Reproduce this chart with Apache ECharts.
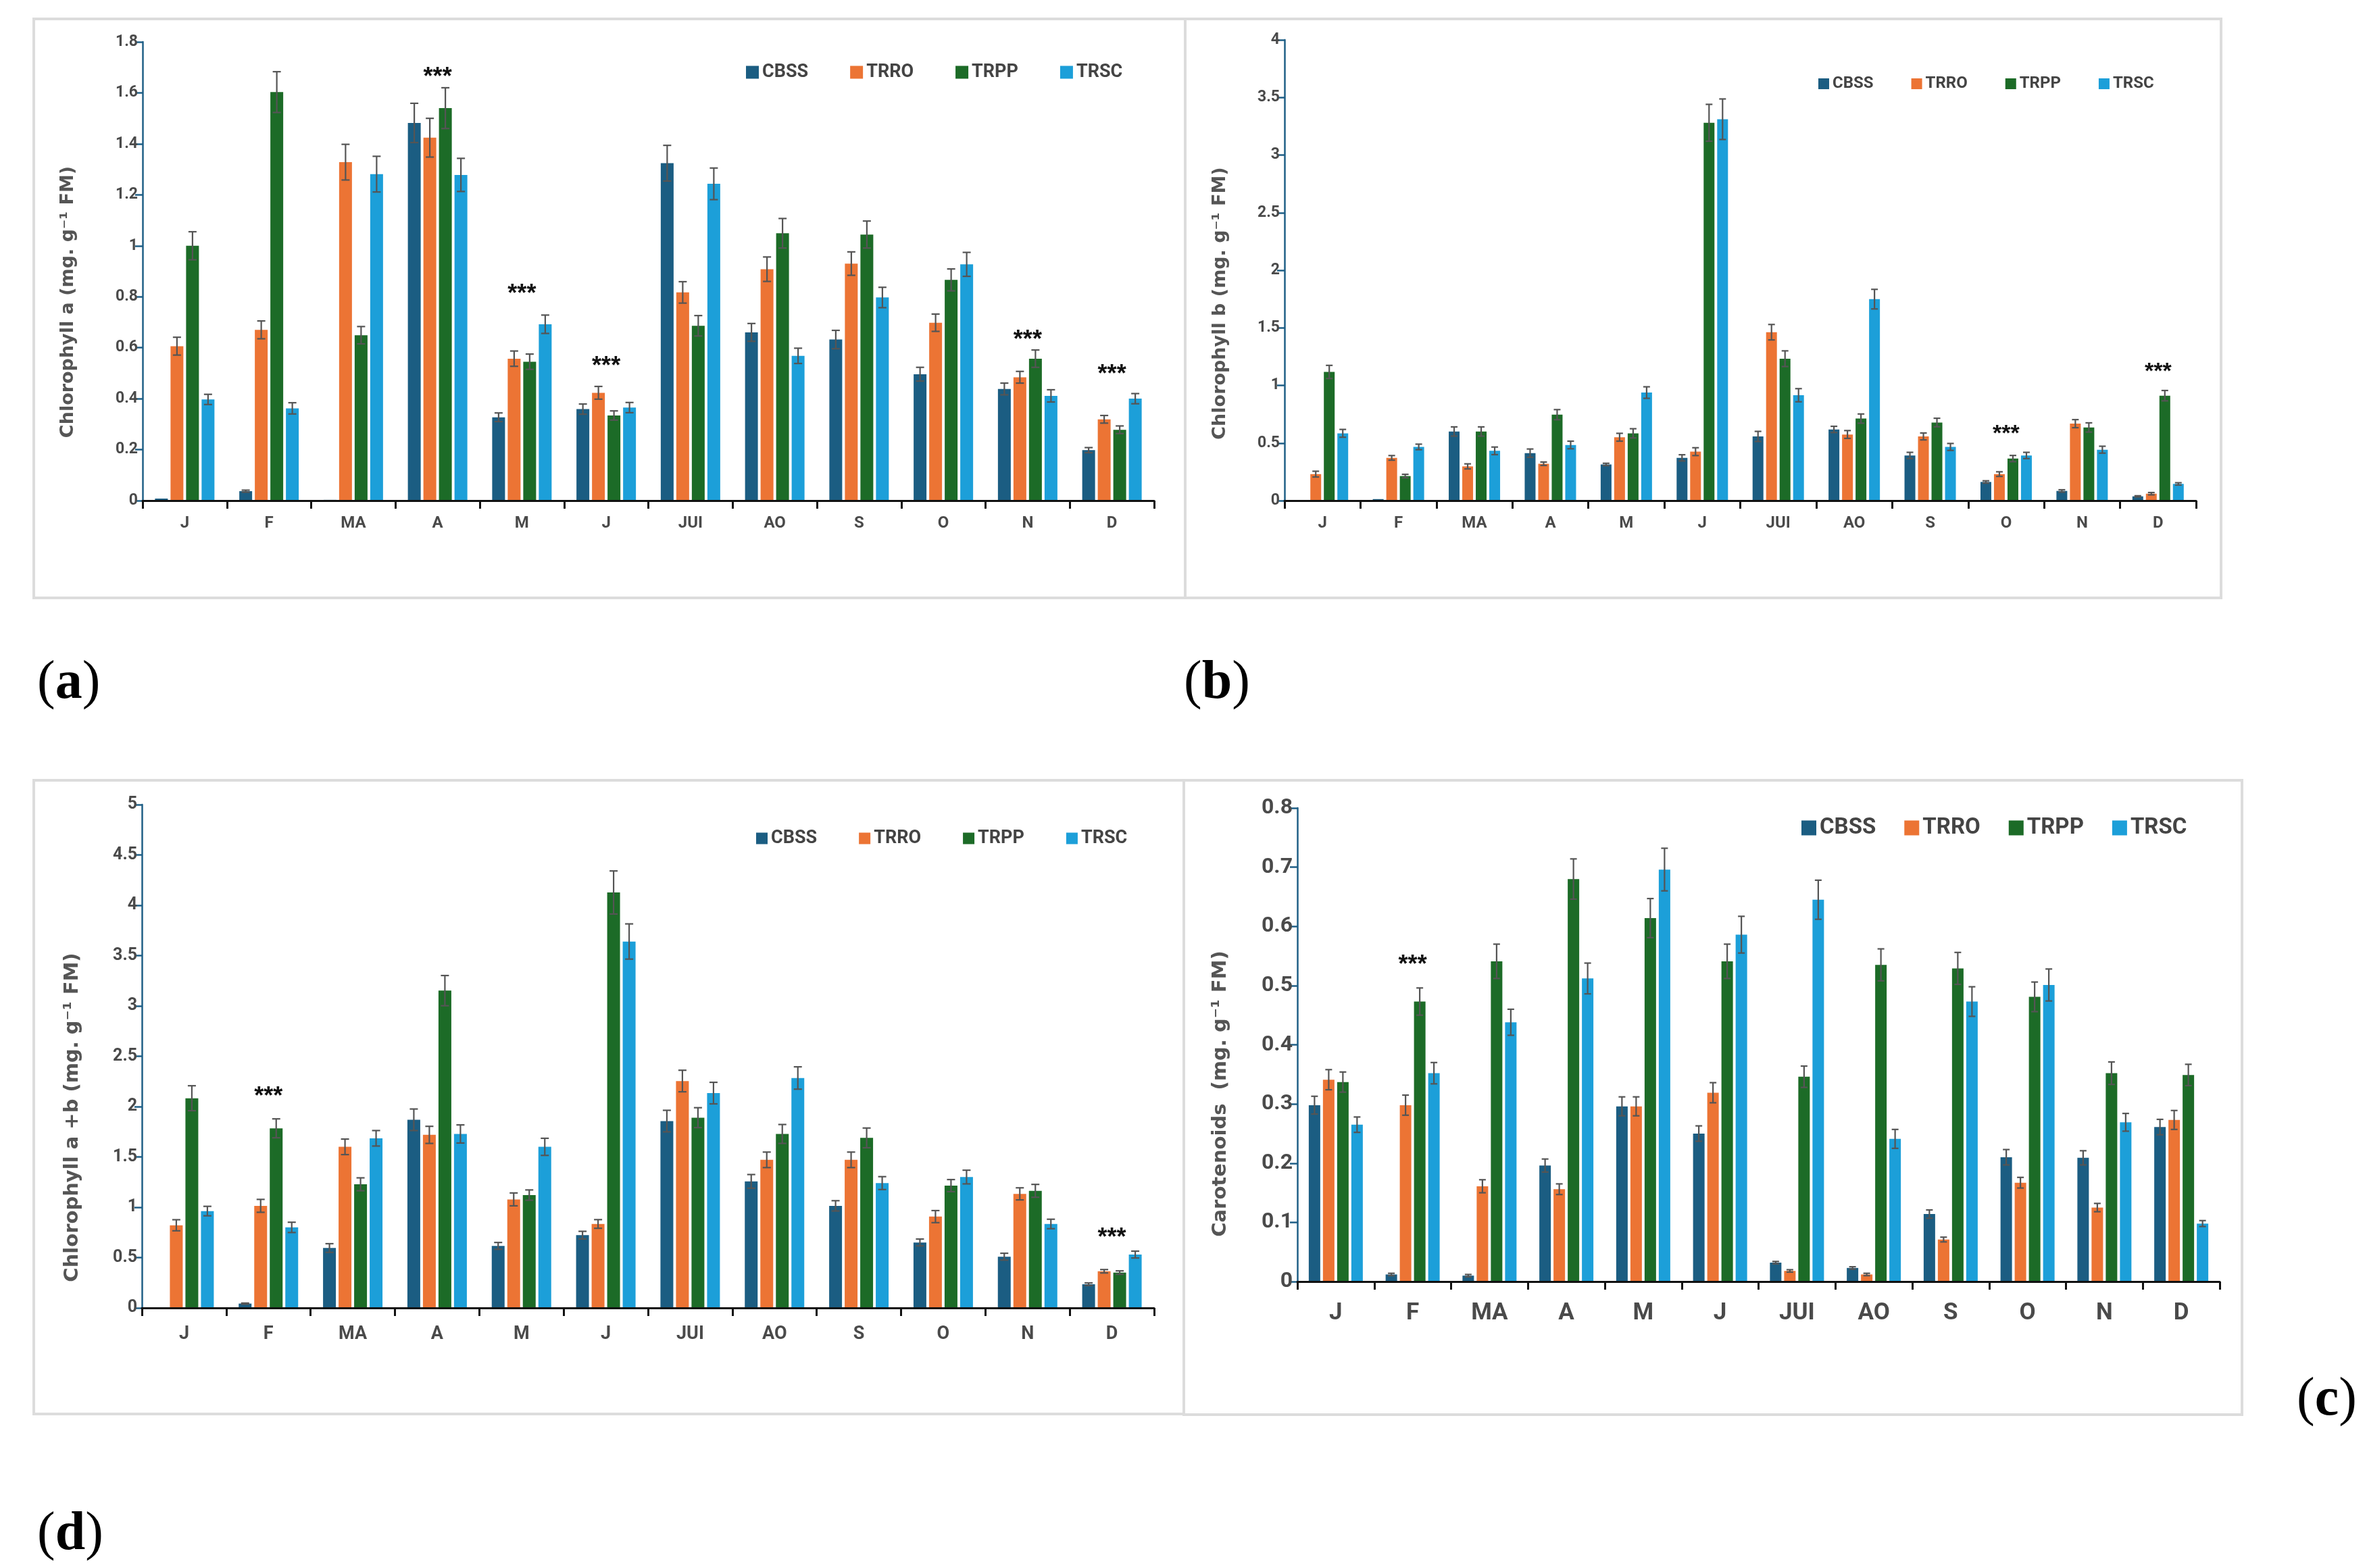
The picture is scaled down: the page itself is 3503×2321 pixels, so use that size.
<!DOCTYPE html>
<html>
<head>
<meta charset="utf-8">
<script src="https://cdn.jsdelivr.net/npm/echarts@6/dist/echarts.min.js"></script>
<style>
html,body{margin:0;padding:0;background:#fff;}
#main{width:3503px;height:2321px;}
</style>
</head>
<body>
<div id="main"></div>
<script>
// ---------------- DATA ----------------
const months = ['J','F','MA','A','M','J','JUI','AO','S','O','N','D'];
const treatments = ['CBSS','TRRO','TRPP','TRSC'];
const colors = ['#1b5d82','#ec7434','#1c6b27','#1c9fd9'];

// axis ranges [min, max, interval]
const chlA_axis = [0, 1.8, 0.2];
const chlB_axis = [0, 4, 0.5];
const chlAB_axis = [0, 5, 0.5];
const carot_axis = [0, 0.8, 0.1];

// (a) Chlorophyll a
const chlA_CBSS = [0.008, 0.037, 0.003, 1.482, 0.327, 0.359, 1.324, 0.660, 0.632, 0.496, 0.438, 0.198];
const chlA_TRRO = [0.606, 0.670, 1.328, 1.424, 0.557, 0.423, 0.817, 0.908, 0.930, 0.698, 0.484, 0.319];
const chlA_TRPP = [1.000, 1.603, 0.649, 1.540, 0.545, 0.334, 0.686, 1.049, 1.044, 0.866, 0.557, 0.278];
const chlA_TRSC = [0.397, 0.362, 1.281, 1.278, 0.692, 0.365, 1.243, 0.568, 0.797, 0.927, 0.411, 0.400];
const chlA_CBSS_err = [0, 0.004, 0, 0.077, 0.017, 0.020, 0.070, 0.035, 0.036, 0.027, 0.023, 0.010];
const chlA_TRRO_err = [0.035, 0.035, 0.070, 0.076, 0.030, 0.025, 0.042, 0.048, 0.046, 0.034, 0.023, 0.015];
const chlA_TRPP_err = [0.055, 0.080, 0.034, 0.080, 0.030, 0.018, 0.040, 0.058, 0.053, 0.043, 0.034, 0.015];
const chlA_TRSC_err = [0.020, 0.022, 0.070, 0.065, 0.036, 0.020, 0.062, 0.030, 0.040, 0.047, 0.024, 0.020];
const chlA_stars = [[3, 1.68], [4, 0.83], [5, 0.546], [10, 0.65], [11, 0.515]];

// (b) Chlorophyll b
const chlB_CBSS = [0.005, 0.013, 0.600, 0.412, 0.314, 0.371, 0.557, 0.618, 0.392, 0.162, 0.084, 0.037];
const chlB_TRRO = [0.230, 0.371, 0.297, 0.320, 0.550, 0.425, 1.462, 0.574, 0.557, 0.230, 0.668, 0.060];
const chlB_TRPP = [1.117, 0.213, 0.600, 0.746, 0.584, 3.280, 1.232, 0.712, 0.678, 0.365, 0.635, 0.911];
const chlB_TRSC = [0.584, 0.466, 0.432, 0.483, 0.938, 3.311, 0.915, 1.749, 0.466, 0.392, 0.442, 0.145];
const chlB_CBSS_err = [0, 0, 0.040, 0.036, 0.010, 0.027, 0.044, 0.027, 0.027, 0.010, 0.010, 0.005];
const chlB_TRRO_err = [0.025, 0.020, 0.022, 0.015, 0.034, 0.034, 0.067, 0.034, 0.030, 0.020, 0.035, 0.010];
const chlB_TRPP_err = [0.057, 0.015, 0.040, 0.044, 0.040, 0.160, 0.068, 0.040, 0.037, 0.027, 0.040, 0.045];
const chlB_TRSC_err = [0.034, 0.024, 0.033, 0.033, 0.050, 0.176, 0.057, 0.085, 0.030, 0.027, 0.030, 0.010];
const chlB_stars = [[9, 0.62], [11, 1.16]];

// (d) Chlorophyll a+b
const chlAB_CBSS = [0.005, 0.043, 0.595, 1.869, 0.616, 0.723, 1.856, 1.257, 1.014, 0.650, 0.509, 0.235];
const chlAB_TRRO = [0.821, 1.014, 1.600, 1.719, 1.078, 0.834, 2.254, 1.471, 1.471, 0.907, 1.133, 0.364];
const chlAB_TRPP = [2.083, 1.784, 1.228, 3.152, 1.121, 4.127, 1.890, 1.728, 1.689, 1.215, 1.163, 0.351];
const chlAB_TRSC = [0.962, 0.800, 1.685, 1.728, 1.600, 3.640, 2.134, 2.284, 1.240, 1.300, 0.834, 0.530];
const chlAB_CBSS_err = [0, 0.005, 0.043, 0.107, 0.034, 0.038, 0.107, 0.068, 0.051, 0.034, 0.034, 0.013];
const chlAB_TRRO_err = [0.055, 0.064, 0.077, 0.085, 0.064, 0.043, 0.107, 0.077, 0.077, 0.060, 0.060, 0.017];
const chlAB_TRPP_err = [0.124, 0.094, 0.064, 0.150, 0.051, 0.214, 0.099, 0.094, 0.098, 0.060, 0.064, 0.017];
const chlAB_TRSC_err = [0.047, 0.051, 0.077, 0.090, 0.085, 0.175, 0.107, 0.111, 0.064, 0.068, 0.047, 0.034];
const chlAB_stars = [[1, 2.147], [11, 0.744]];

// (c) Carotenoids
const carot_CBSS = [0.298, 0.012, 0.010, 0.196, 0.296, 0.250, 0.032, 0.023, 0.114, 0.210, 0.209, 0.261];
const carot_TRRO = [0.341, 0.298, 0.161, 0.156, 0.296, 0.319, 0.018, 0.012, 0.071, 0.167, 0.125, 0.273];
const carot_TRPP = [0.337, 0.473, 0.541, 0.680, 0.614, 0.541, 0.346, 0.535, 0.529, 0.481, 0.352, 0.349];
const carot_TRSC = [0.265, 0.352, 0.438, 0.512, 0.696, 0.586, 0.645, 0.241, 0.473, 0.501, 0.269, 0.098];
const carot_CBSS_err = [0.015, 0.002, 0.002, 0.011, 0.016, 0.013, 0.002, 0.002, 0.007, 0.013, 0.012, 0.013];
const carot_TRRO_err = [0.017, 0.017, 0.011, 0.009, 0.016, 0.017, 0.002, 0.002, 0.004, 0.009, 0.007, 0.016];
const carot_TRPP_err = [0.017, 0.023, 0.029, 0.034, 0.033, 0.029, 0.018, 0.027, 0.027, 0.025, 0.019, 0.018];
const carot_TRSC_err = [0.013, 0.018, 0.022, 0.026, 0.036, 0.031, 0.033, 0.016, 0.025, 0.027, 0.015, 0.005];
const carot_stars = [[1, 0.543]];

// ---------------- LAYOUT ----------------
const panels = [
  { grid:{left:211, top:62, width:1497, height:679}, axis:chlA_axis,
    vals:[chlA_CBSS, chlA_TRRO, chlA_TRPP, chlA_TRSC],
    errs:[chlA_CBSS_err, chlA_TRRO_err, chlA_TRPP_err, chlA_TRSC_err], stars:chlA_stars,
    barW:19, gapPx:4, capW:12, tickFont:23, catFont:24, catMargin:22, starFont:36,
    legend:{left:1099, cy:100, size:19, font:27, gap:62},
    title:{text:'Chlorophyll a (mg. g\u207B\u00B9 FM)', x:101, y:447, font:27} },
  { grid:{left:1901, top:59, width:1349, height:682}, axis:chlB_axis,
    vals:[chlB_CBSS, chlB_TRRO, chlB_TRPP, chlB_TRSC],
    errs:[chlB_CBSS_err, chlB_TRRO_err, chlB_TRPP_err, chlB_TRSC_err], stars:chlB_stars,
    barW:16, gapPx:4, capW:10, tickFont:23, catFont:24, catMargin:22, starFont:34,
    legend:{left:2686, cy:117, size:16, font:24, gap:56},
    title:{text:'Chlorophyll b (mg. g\u207B\u00B9 FM)', x:1806, y:449, font:27} },
  { grid:{left:210, top:1191, width:1498, height:745}, axis:chlAB_axis,
    vals:[chlAB_CBSS, chlAB_TRRO, chlAB_TRPP, chlAB_TRSC],
    errs:[chlAB_CBSS_err, chlAB_TRRO_err, chlAB_TRPP_err, chlAB_TRSC_err], stars:chlAB_stars,
    barW:19, gapPx:4, capW:12, tickFont:25, catFont:27, catMargin:26, starFont:36,
    legend:{left:1114, cy:1233, size:17, font:27, gap:62},
    title:{text:'Chlorophyll a +b (mg. g\u207B\u00B9 FM)', x:107, y:1654, font:29} },
  { grid:{left:1920, top:1196, width:1365, height:701}, axis:carot_axis,
    vals:[carot_CBSS, carot_TRRO, carot_TRPP, carot_TRSC],
    errs:[carot_CBSS_err, carot_TRRO_err, carot_TRPP_err, carot_TRSC_err], stars:carot_stars,
    barW:17, gapPx:4, capW:10, tickFont:32, catFont:35, catMargin:30, starFont:36,
    legend:{left:2661, cy:1217, size:22, font:33, gap:42},
    title:{text:'Carotenoids  (mg. g\u207B\u00B9 FM)', x:1806, y:1619, font:29} }
];

const boxes = [
  [50, 28, 1704, 857], [1754, 28, 1533, 857],
  [50, 1155, 1702, 938], [1752, 1155, 1566, 939]
];
const panelLabels = [
  ['a', 55, 1012], ['b', 1752, 1012], ['d', 55, 2272], ['c', 3399, 2073]
];

// ---------------- BUILD ----------------
const chart = echarts.init(document.getElementById('main'), null, {renderer:'canvas'});
const grids = [], xAxes = [], yAxes = [], series = [], legends = [], graphics = [];
const labelColor = '#4a4a4a';
const FONT = 'Roboto, "Liberation Sans", sans-serif';

panels.forEach((p, pi) => {
  grids.push(Object.assign({containLabel:false}, p.grid));
  xAxes.push({
    type:'category', gridIndex:pi, data:months, boundaryGap:true,
    axisLine:{show:true, lineStyle:{color:'#111', width:3}},
    axisTick:{show:true, length:12, lineStyle:{color:'#111', width:3}},
    axisLabel:{fontFamily:FONT, fontWeight:'bold', fontSize:p.catFont, color:labelColor, margin:p.catMargin},
    splitLine:{show:false}, z:5
  });
  yAxes.push({
    type:'value', gridIndex:pi, min:p.axis[0], max:p.axis[1], interval:p.axis[2],
    axisLine:{show:true, lineStyle:{color:'#1f5f86', width:2.5}},
    axisTick:{show:true, length:11, lineStyle:{color:'#1f5f86', width:2.5}},
    axisLabel:{fontFamily:FONT, fontWeight:'bold', fontSize:p.tickFont, color:labelColor, margin:7},
    splitLine:{show:false}
  });
  const step = p.barW + p.gapPx;
  treatments.forEach((t, ti) => {
    series.push({
      type:'bar', name:t, xAxisIndex:pi, yAxisIndex:pi, data:p.vals[ti],
      barWidth:p.barW, barGap:(p.gapPx / p.barW * 100) + '%',
      itemStyle:{color:colors[ti]}, z:2
    });
    const off = (ti - 1.5) * step;
    const errData = p.vals[ti].map((v, i) => [i, v, p.errs[ti][i]]);
    series.push({
      type:'custom', name:t, xAxisIndex:pi, yAxisIndex:pi, data:errData, z:4,
      encode:{x:0, y:1}, silent:true,
      renderItem:(params, api) => {
        const i = api.value(0), v = api.value(1), e = api.value(2);
        if (!e) return null;
        const lo = Math.max(0, v - e);
        const top = api.coord([i, v + e]);
        const bot = api.coord([i, lo]);
        const x = top[0] + off;
        const st = {stroke:'#555', lineWidth:2.2};
        const hw = p.capW / 2;
        return {type:'group', children:[
          {type:'line', shape:{x1:x, y1:top[1], x2:x, y2:bot[1]}, style:st},
          {type:'line', shape:{x1:x-hw, y1:top[1], x2:x+hw, y2:top[1]}, style:st},
          {type:'line', shape:{x1:x-hw, y1:bot[1], x2:x+hw, y2:bot[1]}, style:st}
        ]};
      }
    });
  });
  series.push({
    type:'custom', name:'stars', xAxisIndex:pi, yAxisIndex:pi, data:p.stars, z:6,
    encode:{x:0, y:1}, silent:true,
    renderItem:(params, api) => {
      const c = api.coord([api.value(0), api.value(1)]);
      return {type:'text', style:{text:'***', x:c[0], y:c[1] + p.starFont*0.22,
        textAlign:'center', textVerticalAlign:'middle',
        font:'bold ' + p.starFont + 'px "Liberation Sans", sans-serif', fill:'#111'}};
    }
  });
  legends.push({
    data:treatments, left:p.legend.left, top:p.legend.cy - p.legend.size/2 - 2,
    orient:'horizontal', icon:'rect', itemWidth:p.legend.size, itemHeight:p.legend.size,
    itemGap:p.legend.gap, selectedMode:false,
    textStyle:{fontFamily:FONT, fontWeight:'bold', fontSize:p.legend.font, color:'#444'}
  });
  graphics.push({
    type:'text', x:p.title.x, y:p.title.y, rotation:Math.PI/2,
    style:{text:p.title.text, textAlign:'center', textVerticalAlign:'middle',
      font:'bold ' + p.title.font + 'px "DejaVu Sans", sans-serif', fill:'#555'}
  });
});

boxes.forEach(b => {
  graphics.push({type:'rect', shape:{x:b[0], y:b[1], width:b[2], height:b[3]},
    style:{fill:'none', stroke:'#dcdcdc', lineWidth:4}, z:-1});
});
panelLabels.forEach(l => {
  graphics.push({type:'text', x:l[1], y:l[2],
    style:{text:'{p|(}{l|' + l[0] + '}{p|)}', textVerticalAlign:'middle',
      rich:{p:{fontFamily:'"Liberation Serif", serif', fontSize:80, fill:'#000'},
            l:{fontFamily:'"Liberation Serif", serif', fontSize:80, fontWeight:'bold', fill:'#000'}}}});
});

chart.setOption({
  animation:false, backgroundColor:'#fff',
  grid:grids, xAxis:xAxes, yAxis:yAxes, legend:legends, series:series, graphic:graphics
});
</script>
</body>
</html>
